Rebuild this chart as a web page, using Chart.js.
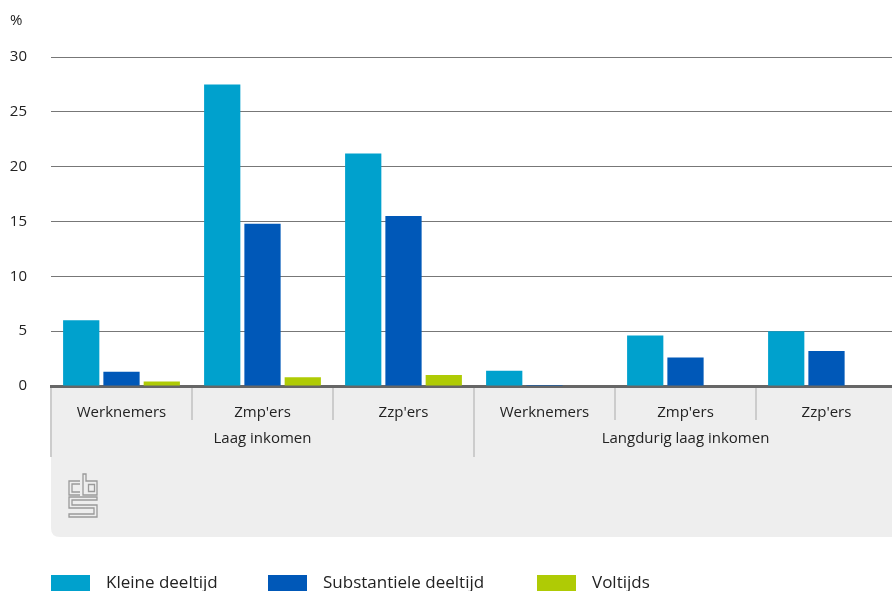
<!DOCTYPE html>
<html>
<head>
<meta charset="utf-8">
<script src="https://cdn.jsdelivr.net/npm/chart.js@4.4.1/dist/chart.umd.min.js"></script>
<style>
  html, body { margin: 0; padding: 0; background: #fff; overflow: hidden; }
  #wrap { width: 892px; height: 591px; overflow: hidden; }
  canvas { display: block; }
</style>
</head>
<body>
<div id="wrap"><canvas id="myChart" width="897" height="591"></canvas></div>
<script>
// categories and groups
var categories = ['Werknemers', "Zmp'ers", "Zzp'ers", 'Werknemers', "Zmp'ers", "Zzp'ers"];
var groups     = ['Laag inkomen', 'Langdurig laag inkomen'];
var groupSize  = 3;
// series values (%)
var kleineDeeltijd       = [6.0, 27.5, 21.2, 1.4, 4.6, 5.0];
var substantieleDeeltijd = [1.3, 14.8, 15.5, 0.1, 2.6, 3.2];
var voltijds             = [0.4, 0.8, 1.0, 0, 0, 0];
var seriesNames  = ['Kleine deeltijd', 'Substantiele deeltijd', 'Voltijds'];
var seriesColors = ['#00a1cd', '#0058b8', '#afcb05'];
// y ticks
var yMin = 0, yMax = 30, yStep = 5;

var FONT = '"Open Sans", "Noto Sans", sans-serif';
var legendX = [51, 268, 537];

// grey band, dividers, group labels, logo, legend
const decorPlugin = {
    id: 'decor',
    beforeDraw(chart) {
        const ctx = chart.ctx, area = chart.chartArea;
        const top = area.bottom + 1, bottom = 537, left = area.left, right = chart.width;
        ctx.save();
        ctx.fillStyle = '#eeeeee';
        ctx.beginPath();
        ctx.moveTo(left, top);
        ctx.lineTo(right, top);
        ctx.lineTo(right, bottom);
        ctx.lineTo(left + 9, bottom);
        ctx.quadraticCurveTo(left, bottom, left, bottom - 9);
        ctx.closePath();
        ctx.fill();
        ctx.restore();
    },
    afterDraw(chart) {
        const ctx = chart.ctx, area = chart.chartArea, x = chart.scales.x;
        const top = area.bottom + 2;
        ctx.save();
        // dividers between categories
        ctx.strokeStyle = '#cccccc';
        ctx.lineWidth = 2;
        for (let i = 0; i < categories.length; i++) {
            const px = i === 0 ? area.left : (x.getPixelForValue(i - 1) + x.getPixelForValue(i)) / 2;
            const isGroup = i % groupSize === 0;
            ctx.beginPath();
            ctx.moveTo(px, top);
            ctx.lineTo(px, isGroup ? 457 : 420);
            ctx.stroke();
        }
        // group labels
        ctx.fillStyle = '#222';
        ctx.font = '15px ' + FONT;
        ctx.textAlign = 'center';
        ctx.textBaseline = 'middle';
        groups.forEach(function (g, gi) {
            const first = gi * groupSize, last = first + groupSize - 1;
            const l = first === 0 ? area.left : (x.getPixelForValue(first - 1) + x.getPixelForValue(first)) / 2;
            const r = last === categories.length - 1 ? area.right : (x.getPixelForValue(last) + x.getPixelForValue(last + 1)) / 2;
            ctx.fillText(g, (l + r) / 2, 439);
        });
        // % label
        ctx.textAlign = 'left';
        ctx.fillText('%', 10, 21);
        // cbs logo
        ctx.strokeStyle = '#9a9a9a';
        ctx.lineWidth = 1.3;
        ctx.beginPath();
        ctx.moveTo(80, 481); ctx.lineTo(69, 481); ctx.lineTo(69, 495); ctx.lineTo(80, 495);
        ctx.moveTo(80, 484); ctx.lineTo(72, 484); ctx.lineTo(72, 492); ctx.lineTo(80, 492);
        ctx.moveTo(83, 474); ctx.lineTo(83, 495); ctx.lineTo(97, 495); ctx.lineTo(97, 481); ctx.lineTo(86, 481); ctx.lineTo(86, 474); ctx.closePath();
        ctx.rect(88.5, 484.5, 6, 7);
        ctx.moveTo(97, 497); ctx.lineTo(69, 497); ctx.lineTo(69, 508); ctx.lineTo(94, 508); ctx.lineTo(94, 514);
        ctx.lineTo(69, 514); ctx.lineTo(69, 517); ctx.lineTo(97, 517); ctx.lineTo(97, 505); ctx.lineTo(72, 505);
        ctx.lineTo(72, 500); ctx.lineTo(97, 500); ctx.closePath();
        ctx.stroke();
        // legend
        ctx.font = '17px ' + FONT;
        chart.data.datasets.forEach(function (ds, i) {
            ctx.fillStyle = ds.backgroundColor;
            ctx.fillRect(legendX[i], 575, 39, 16);
            ctx.fillStyle = '#222';
            ctx.fillText(ds.label, legendX[i] + 55, 583);
        });
        ctx.restore();
    }
};

const data = {
    labels: categories,
    datasets: [
        {label: seriesNames[0], data: kleineDeeltijd,       backgroundColor: seriesColors[0]},
        {label: seriesNames[1], data: substantieleDeeltijd, backgroundColor: seriesColors[1]},
        {label: seriesNames[2], data: voltijds,             backgroundColor: seriesColors[2]}
    ]
};

const config = {
    type: 'bar',
    data: data,
    options: {
        responsive: false,
        animation: false,
        layout: {padding: {top: 57, left: 0, right: 0, bottom: 0}},
        datasets: {bar: {categoryPercentage: 0.857, barPercentage: 0.9}},
        plugins: {legend: {display: false}, tooltip: {enabled: false}},
        scales: {
            x: {
                grid: {display: false},
                border: {display: true, color: '#666', width: 3},
                ticks: {color: '#222', font: {family: FONT, size: 15}, padding: 10, maxRotation: 0, autoSkip: false},
                afterFit: function (scale) { scale.height = 205; }
            },
            y: {
                min: yMin, max: yMax,
                grid: {color: '#777', lineWidth: 1, drawTicks: false},
                border: {display: false},
                ticks: {stepSize: yStep, color: '#222', font: {family: FONT, size: 15}, padding: 24},
                afterFit: function (scale) { scale.width = 51; }
            }
        }
    },
    plugins: [decorPlugin]
};

const myChart = new Chart(document.querySelector('#myChart'), config);
</script>
</body>
</html>
